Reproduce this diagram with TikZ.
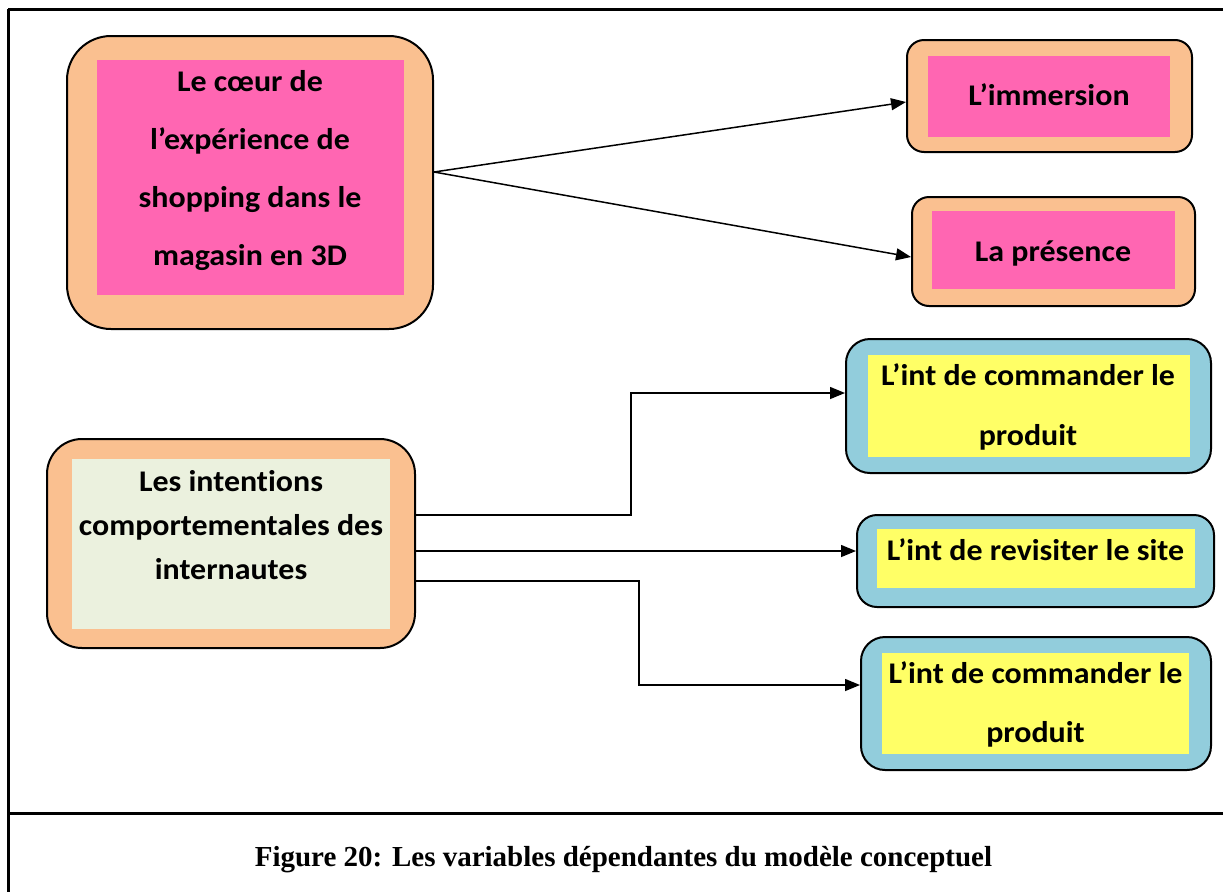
\documentclass[tikz,border=0pt]{standalone}
\usepackage{fontspec}
\setmainfont{Carlito}[Ligatures=NoCommon]
\newfontfamily\capfont{Liberation Serif}
\usetikzlibrary{arrows.meta}
\definecolor{peach}{HTML}{FAC090}
\definecolor{pinkfill}{HTML}{FF66B2}
\definecolor{blueout}{HTML}{92CDDC}
\definecolor{yellowin}{HTML}{FFFF66}
\definecolor{greenin}{HTML}{EBF1DE}
\tikzset{
  outerbox/.style={draw=black, line width=2pt, inner sep=0pt},
  innerbox/.style={inner sep=0pt},
  lbl/.style={font=\fontsize{30}{58}\selectfont\bfseries, align=center, anchor=base, inner sep=0pt, xscale=1.065},
  conn/.style={line width=1.5pt, -{Triangle[length=15pt,width=12pt]}},
  frameline/.style={line width=3pt}
}
\begin{document}
\begin{tikzpicture}[x=1pt,y=-1pt]
\useasboundingbox (0,0) rectangle (1223,892);
\fill[white] (0,0) rectangle (1223,892);
% frame
\draw[frameline] (8,9) coordinate (ftl) -- (1223,9) coordinate (ftr);
\draw[frameline] (ftl) -- (8,892) coordinate (fbl);
\draw[frameline] (8,813) coordinate (dl) -- (1223,813) coordinate (dr);

% Coeur box
\node[outerbox, fill=peach, rounded corners=44pt, minimum width=366pt, minimum height=293pt] (coeur) at (250,182.5) {};
\node[innerbox, fill=pinkfill, minimum width=307pt, minimum height=235pt] (coeurin) at (250.5,177.5) {};
\node[lbl] (coeurt) at (250,265) {Le cœur de\\l’expérience de\\shopping dans le\\magasin en 3D};

% Immersion
\node[outerbox, fill=peach, rounded corners=17pt, minimum width=285pt, minimum height=112pt] (imm) at (1049.5,96) {};
\node[innerbox, fill=pinkfill, minimum width=242pt, minimum height=81pt] (immin) at (1049,96.5) {};
\node[lbl] (immt) at (1049,105) {L’immersion};

% Presence
\node[outerbox, fill=peach, rounded corners=17pt, minimum width=283pt, minimum height=109pt] (pres) at (1053.5,251.5) {};
\node[innerbox, fill=pinkfill, minimum width=243pt, minimum height=78pt] (presin) at (1053.5,250) {};
\node[lbl] (prest) at (1053,261) {La présence};

% Intentions
\node[outerbox, fill=peach, rounded corners=35pt, minimum width=368pt, minimum height=209pt] (intn) at (231,543.5) {};
\node[innerbox, fill=greenin, minimum width=318pt, minimum height=170pt] (intnin) at (231,544) {};
\node[lbl, font=\fontsize{30}{44}\selectfont\bfseries] (intnt) at (231,579) {Les intentions\\comportementales des\\internautes};

% Blue 1
\node[outerbox, fill=blueout, rounded corners=24pt, minimum width=365pt, minimum height=134pt] (b1) at (1028.5,406) {};
\node[innerbox, fill=yellowin, minimum width=322pt, minimum height=102pt] (b1in) at (1029,406) {};
\node[lbl, font=\fontsize{30}{60}\selectfont\bfseries] (b1t) at (1028,445) {L’int de commander le\\produit};

% Blue 2
\node[outerbox, fill=blueout, rounded corners=20pt, minimum width=357pt, minimum height=92pt] (b2) at (1035.5,561) {};
\node[innerbox, fill=yellowin, minimum width=318pt, minimum height=59pt] (b2in) at (1036,558.5) {};
\node[lbl] (b2t) at (1035.5,560) {L’int de revisiter le site};

% Blue 3
\node[outerbox, fill=blueout, rounded corners=24pt, minimum width=350pt, minimum height=133pt] (b3) at (1036,703.5) {};
\node[innerbox, fill=yellowin, minimum width=307pt, minimum height=101pt] (b3in) at (1035.5,703.5) {};
\node[lbl, font=\fontsize{30}{59}\selectfont\bfseries] (b3t) at (1035.5,742) {L’int de commander le\\produit};

% connectors
\draw[conn] ([yshift=10.5pt]coeur.east) -- ([yshift=-6pt]imm.west);
\draw[conn] ([yshift=10.5pt]coeur.east) -- ([yshift=-5.5pt]pres.west);
\draw[conn] ([yshift=28.5pt]intn.east) -- ++(215,0) |- ([yshift=13pt]b1.west);
\draw[conn] ([yshift=-7.5pt]intn.east) -- ([yshift=10pt]b2.west);
\draw[conn] ([yshift=-37.5pt]intn.east) -- ++(223,0) |- ([yshift=18.5pt]b3.west);

% caption
\node[font=\capfont\bfseries\fontsize{29}{34}\selectfont, anchor=base, inner sep=0pt] (cap) at (623.5,866) {Figure 20: Les variables dépendantes du modèle conceptuel};
\end{tikzpicture}
\end{document}
